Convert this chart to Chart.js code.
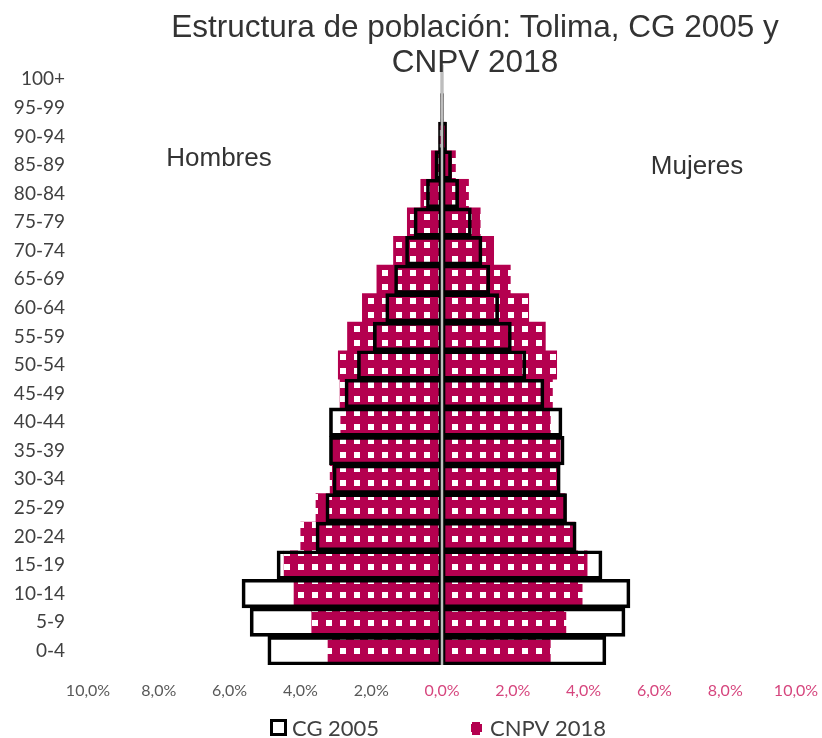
<!DOCTYPE html>
<html>
<head>
<meta charset="utf-8">
<script src="https://cdn.jsdelivr.net/npm/chart.js@4/dist/chart.umd.min.js"></script>
<style>
    html, body { margin: 0; padding: 0; background: #ffffff; }
    #wrap { width: 822px; height: 738px; }
</style>
</head>
<body>
<div id="wrap"><canvas id="pyramid_chart"></canvas></div>
<script>
    // grupos de edad, de abajo hacia arriba
    var age_groups = ['0-4', '5-9', '10-14', '15-19', '20-24', '25-29', '30-34', '35-39', '40-44', '45-49',
        '50-54', '55-59', '60-64', '65-69', '70-74', '75-79', '80-84', '85-89', '90-94', '95-99', '100+'];

    // % de la población total
    var hombres_2005 = [4.92, 5.42, 5.65, 4.66, 3.56, 3.28, 3.08, 3.18, 3.18, 2.74,
        2.39, 1.94, 1.59, 1.34, 1.03, 0.79, 0.44, 0.20, 0.10, 0.04, 0.03];
    var mujeres_2005 = [4.63, 5.17, 5.31, 4.52, 3.79, 3.52, 3.34, 3.45, 3.39, 2.88,
        2.37, 1.96, 1.60, 1.35, 1.13, 0.83, 0.47, 0.27, 0.13, 0.04, 0.03];
    var hombres_2018 = [3.22, 3.68, 4.18, 4.46, 3.99, 3.56, 3.16, 3.12, 2.86, 2.88,
        2.93, 2.67, 2.25, 1.84, 1.37, 0.98, 0.60, 0.30, 0.08, 0.02, 0.01];
    var mujeres_2018 = [3.06, 3.50, 3.96, 4.10, 3.76, 3.48, 3.29, 3.34, 3.06, 3.12,
        3.24, 2.92, 2.45, 1.93, 1.46, 1.08, 0.75, 0.38, 0.10, 0.02, 0.01];

    var x_ticks = [-10, -8, -6, -4, -2, 0, 2, 4, 6, 8, 10];
    var series_labels = ['CG 2005', 'CNPV 2018'];

    var crimson = '#B4004F';

    // relleno con cuadritos blancos
    function make_pattern() {
        var c = document.createElement('canvas');
        c.width = 14;
        c.height = 14;
        var g = c.getContext('2d');
        g.fillStyle = crimson;
        g.fillRect(0, 0, 14, 14);
        g.fillStyle = '#ffffff';
        g.fillRect(4, 4, 6, 6);
        return g.createPattern(c, 'repeat');
    }
    var pattern = make_pattern();

    var neg = function (arr) { return arr.map(function (v) { return -v; }); };

    var extras = {
        id: 'extras',
        afterDatasetsDraw: function (chart) {
            var ctx = chart.ctx;
            var x = chart.scales.x;
            var area = chart.chartArea;
            var x0 = x.getPixelForValue(0);
            ctx.save();
            ctx.strokeStyle = '#bdbdbd';
            ctx.lineWidth = 2.5;
            ctx.beginPath();
            ctx.moveTo(x0, area.top);
            ctx.lineTo(x0, area.bottom);
            ctx.stroke();

            // título
            ctx.fillStyle = '#333333';
            ctx.textAlign = 'center';
            ctx.textBaseline = 'alphabetic';
            ctx.font = "31.5px 'Liberation Sans', Arial, sans-serif";
            ctx.fillText('Estructura de población: Tolima, CG 2005 y', 475, 37);
            ctx.fillText('CNPV 2018', 475, 72);

            ctx.font = "26px 'Liberation Sans', Arial, sans-serif";
            ctx.fillText('Hombres', 219, 166);
            ctx.fillText('Mujeres', 697, 174);

            // leyenda
            ctx.lineWidth = 3;
            ctx.strokeStyle = '#000000';
            ctx.fillStyle = '#ffffff';
            ctx.fillRect(271.5, 720.5, 14, 14);
            ctx.strokeRect(271.5, 720.5, 14, 14);
            ctx.fillStyle = pattern;
            ctx.fillRect(471, 722, 11, 13);

            ctx.fillStyle = '#404040';
            ctx.textAlign = 'left';
            ctx.font = "22px Lato, 'Open Sans', sans-serif";
            ctx.fillText(chart.data.datasets[0].label, 292, 736);
            ctx.fillText(chart.data.datasets[2].label, 490, 736);
            ctx.restore();
        }
    };

    var ctx = document.getElementById('pyramid_chart');
    var pyramid_chart = new Chart(ctx, {
        type: 'bar',
        data: {
            labels: age_groups,
            datasets: [
                {
                    label: series_labels[0],
                    data: neg(hombres_2005),
                    backgroundColor: 'rgba(0,0,0,0)',
                    borderColor: '#000000',
                    borderWidth: 3,
                    borderSkipped: false,
                    grouped: false
                },
                {
                    label: series_labels[0] + ' Mujeres',
                    data: mujeres_2005,
                    backgroundColor: 'rgba(0,0,0,0)',
                    borderColor: '#000000',
                    borderWidth: 3,
                    borderSkipped: false,
                    grouped: false
                },
                {
                    label: series_labels[1],
                    data: neg(hombres_2018),
                    backgroundColor: pattern,
                    borderWidth: 0,
                    grouped: false
                },
                {
                    label: series_labels[1] + ' Mujeres',
                    data: mujeres_2018,
                    backgroundColor: pattern,
                    borderWidth: 0,
                    grouped: false
                }
            ]
        },
        options: {
            indexAxis: 'y',
            responsive: true,
            maintainAspectRatio: false,
            animation: false,
            layout: {
                padding: { top: 65, right: 26, bottom: 38, left: 0 }
            },
            datasets: {
                bar: { categoryPercentage: 1, barPercentage: 1 }
            },
            plugins: {
                legend: { display: false },
                title: { display: false },
                tooltip: { enabled: false }
            },
            scales: {
                x: {
                    min: -10,
                    max: 10,
                    afterBuildTicks: function (scale) {
                        scale.ticks = x_ticks.map(function (v) { return { value: v }; });
                    },
                    afterFit: function (scale) {
                        scale.height = 35;
                        scale.paddingLeft = 0;
                        scale.paddingRight = 0;
                    },
                    grid: { display: false, drawTicks: false },
                    border: { display: false },
                    ticks: {
                        padding: 16,
                        maxRotation: 0,
                        autoSkip: false,
                        font: { family: "Lato, 'Open Sans', sans-serif", size: 16 },
                        color: function (c) { return c.tick && c.tick.value < 0 ? '#595959' : '#D6467E'; },
                        callback: function (v) { return Math.abs(v).toFixed(1).replace('.', ',') + '%'; }
                    }
                },
                y: {
                    reverse: true,
                    afterFit: function (scale) { scale.width = 88; },
                    grid: { display: false, drawTicks: false },
                    border: { display: false },
                    ticks: {
                        padding: 23,
                        autoSkip: false,
                        font: { family: "Lato, 'Open Sans', sans-serif", size: 19 },
                        color: '#404040'
                    }
                }
            }
        },
        plugins: [extras]
    });
</script>
</body>
</html>
